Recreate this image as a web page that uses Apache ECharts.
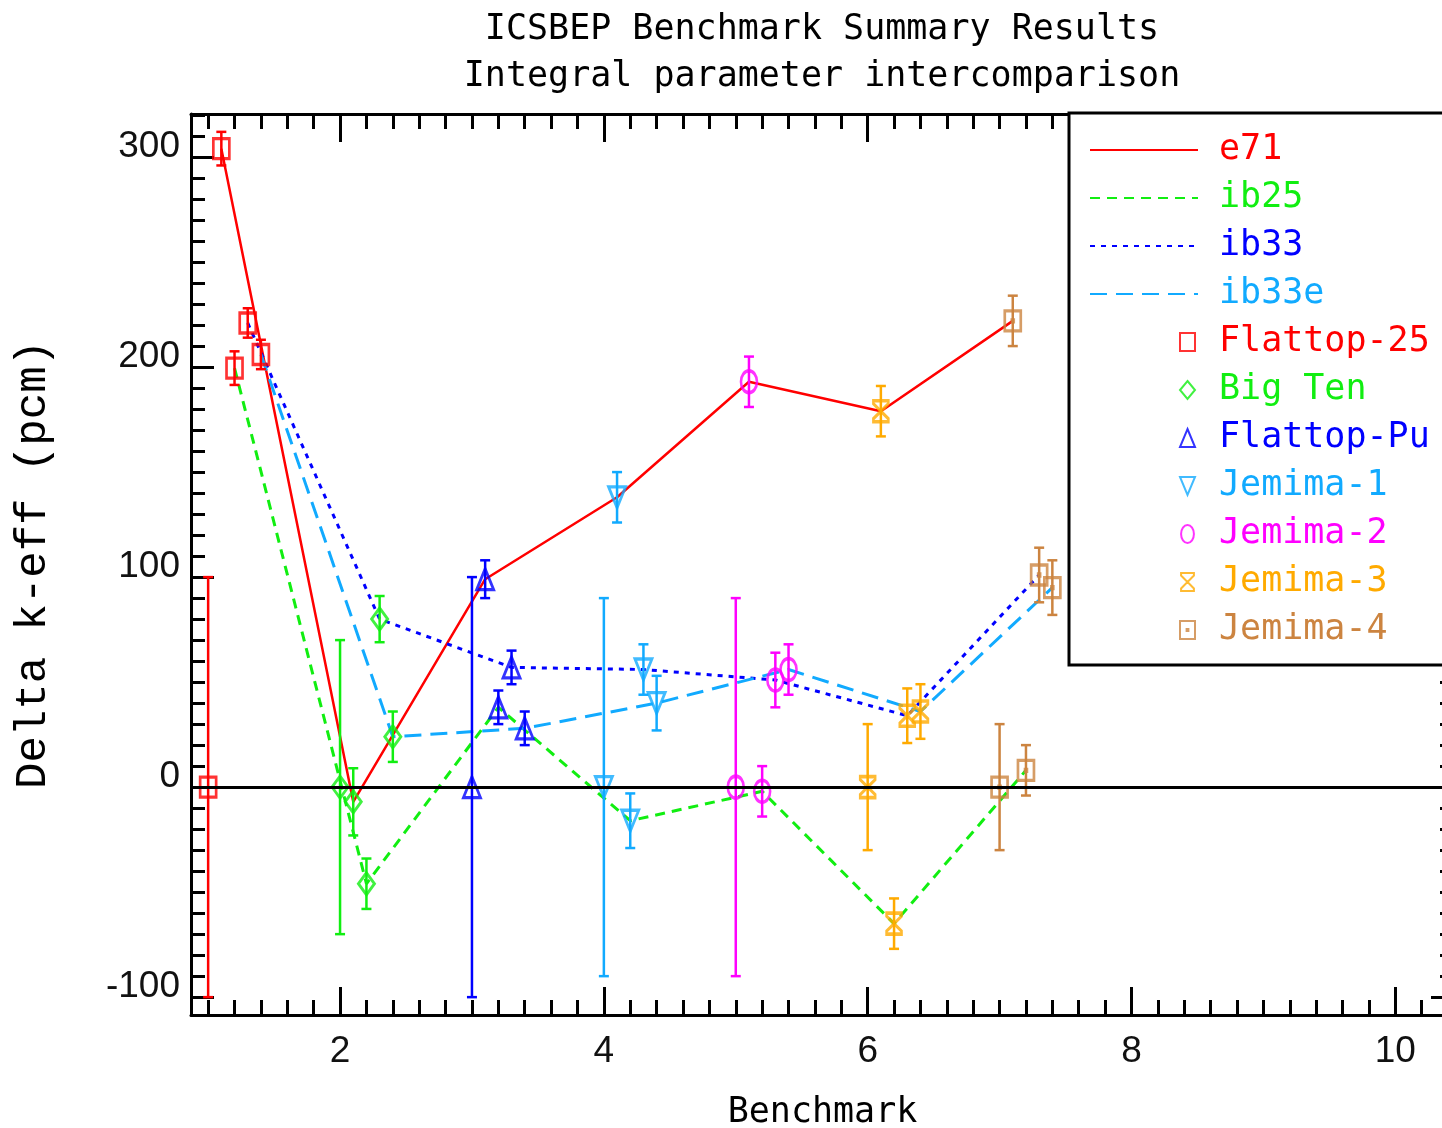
<!DOCTYPE html>
<html>
<head>
<meta charset="utf-8">
<script src="https://cdn.jsdelivr.net/npm/echarts@6/dist/echarts.min.js"></script>
<style>
  html, body { margin: 0; padding: 0; background: #fff; }
  #main { width: 1442px; height: 1128px; }
</style>
</head>
<body>
<div id="main"></div>
<script>
// benchmarks: experiment sits at x = i, libraries at i+0.1 .. i+0.4
const benchmarks = ['Flattop-25', 'Big Ten', 'Flattop-Pu', 'Jemima-1', 'Jemima-2', 'Jemima-3', 'Jemima-4'];
const benchX = [1, 2, 3, 4, 5, 6, 7];
const expErr = [100, 70, 100, 90, 90, 30, 30];

const libraries = ['e71', 'ib25', 'ib33', 'ib33e'];
const libOffset = [0.1, 0.2, 0.3, 0.4];

const e71 = [304, -7, 99, 138, 193, 179, 222];
const ib25 = [199.5, -46, 38, -16, -2, -65, 8];
const ib33 = [221, 80, 57, 56, 51, 34, 101];
const ib33e = [206, 24, 28, 40, 56, 36, 95];

const e71Err = [8, 16, 9, 12, 12, 12, 12];
const ib25Err = [8, 12, 8, 13, 12, 12, 12];
const ib33Err = [7, 11, 8, 12, 13, 13, 13];
const ib33eErr = [7, 12, 8, 13, 12, 13, 13];

const xTickLabels = [2, 4, 6, 8, 10];
const yTickLabels = [-100, 0, 100, 200, 300];

const libValues = [e71, ib25, ib33, ib33e];
const libErrors = [e71Err, ib25Err, ib33Err, ib33eErr];
const libColors = ['#ff0000', '#11ee11', '#0000ff', '#11aaff'];
const libDash = ['solid', [10, 7], [5, 6], [17, 9]];

const benchColors = ['#ff0000', '#11ee11', '#0000ff', '#11aaff', '#ff00ff', '#ffaa00', '#cc8440'];
const benchSymbols = [
    'rect',
    'diamond',
    'triangle',
    'path://M0,0 L10,0 L5,12 Z',
    'path://M0,7 A5,7 0 1 1 10,7 A5,7 0 1 1 0,7 Z',
    'path://M0,0 L10,0 L10,2 L5,7 L10,12 L10,14 L0,14 L0,12 L5,7 L0,2 Z',
    'path://M0,0 L10,0 L10,12 L0,12 Z M4.4,5.4 L5.6,5.4 L5.6,6.6 L4.4,6.6 Z'
];
const benchSymbolSize = [[16, 20], [16, 22], [17, 21], [17, 21], [16, 22], [15, 21], [16, 20]];

const xMin = 0.87, xMax = 10.445;
const yMin = -108.5, yMax = 320.5;

// minor tick positions
const xMinor = [];
for (let v = 1.0; v <= 10.41; v += 0.2) {
    const r = Math.round(v * 10) / 10;
    if (xTickLabels.indexOf(r) < 0) xMinor.push(r);
}
const yMinor = [];
for (let v = -100; v <= 320; v += 10) {
    if (yTickLabels.indexOf(v) < 0) yMinor.push(v);
}

const chart = echarts.init(document.getElementById('main'));

const labelFont = 'Liberation Sans, Arial, sans-serif';
const monoFont = 'DejaVu Sans Mono, monospace';

function tickAxis(pos, isX, values, len, showLine) {
    return {
        type: 'value',
        position: pos,
        min: isX ? xMin : yMin,
        max: isX ? xMax : yMax,
        axisLine: { show: showLine, onZero: false, lineStyle: { color: '#000', width: 3 } },
        axisTick: { show: true, inside: true, length: len, customValues: values, lineStyle: { color: '#000', width: 3 } },
        axisLabel: { show: false },
        splitLine: { show: false },
        silent: true
    };
}

function errorBar(params, api) {
    const x = api.value(0), y = api.value(1), e = api.value(2);
    const hi = api.coord([x, y + e]);
    const lo = api.coord([x, y - e]);
    const cap = 5;
    const style = { stroke: api.visual('color'), lineWidth: 2.5 };
    return {
        type: 'group',
        children: [
            { type: 'line', shape: { x1: hi[0], y1: hi[1], x2: lo[0], y2: lo[1] }, style: style },
            { type: 'line', shape: { x1: hi[0] - cap, y1: hi[1], x2: hi[0] + cap, y2: hi[1] }, style: style },
            { type: 'line', shape: { x1: lo[0] - cap, y1: lo[1], x2: lo[0] + cap, y2: lo[1] }, style: style }
        ]
    };
}

const series = [];

// library curves
libraries.forEach(function (name, k) {
    const s = {
        name: name,
        type: 'line',
        symbol: 'none',
        z: 2,
        lineStyle: { color: libColors[k], width: k === 0 ? 2.5 : 3, type: libDash[k] },
        itemStyle: { color: libColors[k] },
        emphasis: { disabled: true },
        data: benchX.map(function (b, i) { return [b + libOffset[k], libValues[k][i]]; })
    };
    if (k === 0) {
        s.markLine = {
            silent: true,
            symbol: ['none', 'none'],
            label: { show: false },
            lineStyle: { color: '#000', width: 3, type: 'solid' },
            emphasis: { disabled: true },
            data: [{ yAxis: 0 }]
        };
    }
    series.push(s);
});

// benchmark points + error bars
benchmarks.forEach(function (name, i) {
    const pts = [[benchX[i], 0, expErr[i]]];
    libraries.forEach(function (lib, k) {
        pts.push([benchX[i] + libOffset[k], libValues[k][i], libErrors[k][i]]);
    });
    series.push({
        name: name + ' err',
        type: 'custom',
        z: 3,
        itemStyle: { color: benchColors[i] },
        renderItem: errorBar,
        encode: { x: 0, y: 1 },
        silent: true,
        data: pts
    });
    series.push({
        name: name,
        type: 'scatter',
        z: 4,
        symbol: benchSymbols[i],
        symbolSize: benchSymbolSize[i],
        itemStyle: { color: 'rgba(255,255,255,0)', borderColor: benchColors[i], borderWidth: 3 },
        emphasis: { disabled: true },
        data: pts.map(function (p) { return [p[0], p[1]]; })
    });
});

const option = {
    backgroundColor: '#fff',
    animation: false,
    title: {
        text: 'ICSBEP Benchmark Summary Results\nIntegral parameter intercomparison',
        left: 822,
        top: 6,
        padding: 0,
        textAlign: 'center',
        textStyle: { fontFamily: monoFont, fontSize: 35, fontWeight: 'normal', color: '#000', lineHeight: 47 }
    },
    grid: { left: 191, top: 114, width: 1263, height: 901, containLabel: false, outerBoundsMode: 'none' },
    legend: [
        {
            orient: 'vertical',
            left: 1089,
            top: 132,
            padding: 0,
            itemWidth: 108,
            itemHeight: 14,
            itemGap: 12,
            selectedMode: false,
            z: 6,
            itemStyle: { color: 'rgba(0,0,0,0)', borderWidth: 0, opacity: 0 },
            textStyle: { fontFamily: monoFont, fontSize: 35, lineHeight: 36, padding: [0, 0, 0, 16] },
            data: libraries.map(function (n, k) { return { name: n, textStyle: { color: libColors[k] } }; })
        },
        {
            orient: 'vertical',
            left: 1179,
            top: 324,
            padding: 0,
            itemWidth: 15,
            itemHeight: 18,
            itemGap: 12,
            selectedMode: false,
            z: 6,
            textStyle: { fontFamily: monoFont, fontSize: 35, lineHeight: 36, padding: [0, 0, 0, 19] },
            data: benchmarks.map(function (n, i) { return { name: n, textStyle: { color: benchColors[i] } }; })
        }
    ],
    graphic: [{
        type: 'rect',
        z: 5,
        shape: { x: 1069, y: 113, width: 420, height: 552 },
        style: { fill: '#fff', stroke: '#000', lineWidth: 3 },
        silent: true
    }],
    xAxis: [
        {
            type: 'value',
            position: 'bottom',
            min: xMin,
            max: xMax,
            name: 'Benchmark',
            nameLocation: 'middle',
            nameGap: 80,
            nameTextStyle: { fontFamily: monoFont, fontSize: 35, color: '#000' },
            axisLine: { show: true, onZero: false, lineStyle: { color: '#000', width: 3 } },
            axisTick: { show: true, inside: true, length: 28, customValues: xTickLabels, lineStyle: { color: '#000', width: 3 } },
            axisLabel: { show: true, customValues: xTickLabels, margin: 18, fontFamily: labelFont, fontSize: 37, color: '#111' },
            splitLine: { show: false }
        },
        tickAxis('bottom', true, xMinor, 15, false),
        tickAxis('top', true, xTickLabels, 28, true),
        tickAxis('top', true, xMinor, 15, false)
    ],
    yAxis: [
        {
            type: 'value',
            position: 'left',
            min: yMin,
            max: yMax,
            name: 'Delta k-eff (pcm)',
            nameLocation: 'middle',
            nameRotate: 90,
            nameGap: 136,
            nameTextStyle: { fontFamily: 'Liberation Mono, monospace', fontSize: 44, color: '#000' },
            axisLine: { show: true, onZero: false, lineStyle: { color: '#000', width: 3 } },
            axisTick: { show: true, inside: true, length: 23, customValues: yTickLabels, lineStyle: { color: '#000', width: 3 } },
            axisLabel: { show: true, customValues: yTickLabels, margin: 11, verticalAlign: 'bottom', lineHeight: 20, fontFamily: labelFont, fontSize: 37, color: '#111' },
            splitLine: { show: false }
        },
        tickAxis('left', false, yMinor, 14, false),
        tickAxis('right', false, yTickLabels, 23, true),
        tickAxis('right', false, yMinor, 14, false)
    ],
    series: series
};

chart.setOption(option);

window.onresize = function () {
    chart.resize();
};
</script>
</body>
</html>
